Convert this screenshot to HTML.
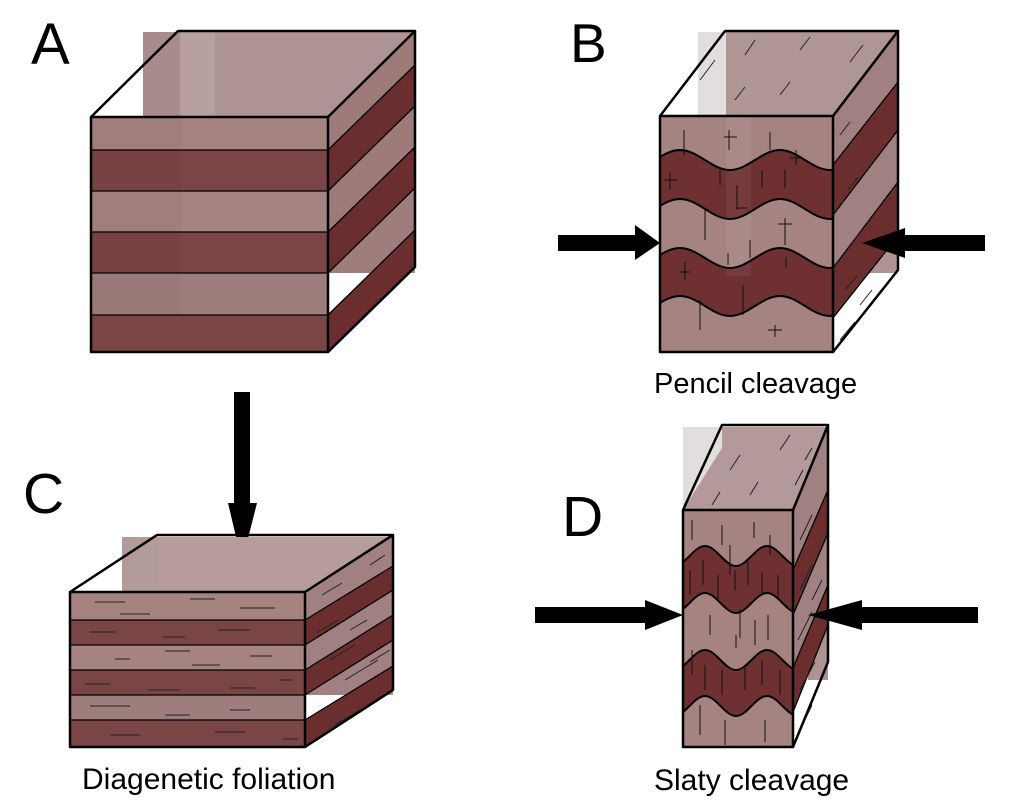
<!DOCTYPE html>
<html><head><meta charset="utf-8"><style>
html,body{margin:0;padding:0;background:#fff;}
svg{display:block;}
text{font-family:"Liberation Sans",sans-serif;fill:#000;}
</style></head><body>
<svg width="1024" height="801" viewBox="0 0 1024 801" xmlns="http://www.w3.org/2000/svg">
<defs>
<clipPath id="cB"><rect x="660" y="116" width="173" height="236"/></clipPath>
<clipPath id="cD"><rect x="683" y="510" width="110" height="237"/></clipPath>
</defs>

<!-- ============ A ============ -->
<rect x="143" y="32" width="272" height="241" fill="#ad9393"/>
<rect x="180" y="32" width="35" height="241" fill="#b9a0a0"/>
<rect x="143" y="32" width="37" height="241" fill="#a88c8c"/>
<polygon points="328,117 415,32 415,65 328,150" fill="#9d7b7b"/>
<polygon points="328,150 415,65 415,106 328,191" fill="#6b2e2f"/>
<polygon points="328,191 415,106 415,147 328,232" fill="#9d7b7b"/>
<polygon points="328,232 415,147 415,188 328,273" fill="#6b2e2f"/>
<polygon points="328,273 415,188 415,230 328,315" fill="#9f7d7d"/>
<polygon points="328,273 371,273 328,315" fill="#fff"/>
<polygon points="328,315 415,230 415,267 328,352" fill="#6b2e2f"/>
<g stroke="#000" stroke-width="1.3">
<line x1="328" y1="150" x2="415" y2="65"/><line x1="328" y1="191" x2="415" y2="106"/>
<line x1="328" y1="232" x2="415" y2="147"/><line x1="328" y1="273" x2="415" y2="188"/>
<line x1="328" y1="315" x2="415" y2="230"/>
</g>
<rect x="91" y="117" width="237" height="33" fill="#a58381"/>
<rect x="91" y="150" width="237" height="41" fill="#7a4546"/>
<rect x="91" y="191" width="237" height="41" fill="#a58381"/>
<rect x="91" y="232" width="237" height="41" fill="#7a4546"/>
<rect x="91" y="273" width="237" height="42" fill="#9e7e7c"/>
<rect x="91" y="315" width="237" height="37" fill="#7a4546"/>
<rect x="91" y="117" width="90" height="198" fill="#000" opacity="0.03"/>
<g stroke="#000" stroke-width="1.3">
<line x1="91" y1="150" x2="328" y2="150"/><line x1="91" y1="191" x2="328" y2="191"/>
<line x1="91" y1="232" x2="328" y2="232"/><line x1="91" y1="273" x2="328" y2="273"/>
<line x1="91" y1="315" x2="328" y2="315"/>
</g>
<g fill="none" stroke="#000" stroke-width="2.5" stroke-linejoin="round">
<rect x="91" y="117" width="237" height="235"/>
<polyline points="91,117 178,31 415,31 328,117"/>
<polyline points="415,31 415,267 328,352"/>
</g>
<text x="31" y="64" font-size="58">A</text>

<!-- ============ B ============ -->
<rect x="698" y="32" width="200" height="241" fill="#ad9393"/>
<rect x="726" y="32" width="25" height="241" fill="#bba2a2"/>
<rect x="698" y="32" width="28" height="241" fill="#e2dede"/>
<rect x="726" y="32" width="172" height="84" fill="#b09595"/>
<polygon points="676,95 698,66 698,116 660,116" fill="#fff"/>
<polygon points="833,116 898,31 898,82 833,165" fill="#a08080"/>
<polygon points="833,165 898,82 898,130 833,215" fill="#6b2e2f"/>
<polygon points="833,215 898,130 898,182 833,268" fill="#a08080"/>
<polygon points="833,268 898,182 898,236 833,318" fill="#6b2e2f"/>
<g stroke="#000" stroke-width="1.3">
<line x1="833" y1="165" x2="898" y2="82"/><line x1="833" y1="215" x2="898" y2="130"/>
<line x1="833" y1="268" x2="898" y2="182"/><line x1="833" y1="318" x2="898" y2="236"/>
</g>
<g stroke="#222" stroke-width="1">
<line x1="700" y1="80" x2="715" y2="60"/><line x1="745" y1="55" x2="755" y2="40"/>
<line x1="800" y1="50" x2="810" y2="37"/><line x1="850" y1="62" x2="863" y2="45"/>
<line x1="735" y1="100" x2="745" y2="87"/><line x1="780" y1="95" x2="790" y2="82"/>
<line x1="840" y1="135" x2="850" y2="122"/><line x1="848" y1="190" x2="858" y2="177"/>
<line x1="850" y1="245" x2="862" y2="230"/><line x1="845" y1="290" x2="857" y2="276"/>
<line x1="840" y1="340" x2="855" y2="322"/><line x1="860" y1="305" x2="872" y2="290"/>
</g>
<g clip-path="url(#cB)">
<rect x="660" y="116" width="173" height="236" fill="#a58381"/>
<path d="M630,170 C648,170 662,150 680,150 C698,150 712,170 730,170 C748,170 762,150 780,150 C798,150 812,170 830,170 C848,170 862,150 880,150 L880,400 L630,400 Z" fill="#6e3031"/>
<path d="M630,219 C648,219 662,199 680,199 C698,199 712,219 730,219 C748,219 762,199 780,199 C798,199 812,219 830,219 C848,219 862,199 880,199 L880,400 L630,400 Z" fill="#a58381"/>
<path d="M630,268 C648,268 662,248 680,248 C698,248 712,268 730,268 C748,268 762,248 780,248 C798,248 812,268 830,268 C848,268 862,248 880,248 L880,400 L630,400 Z" fill="#6e3031"/>
<path d="M630,316 C648,316 662,296 680,296 C698,296 712,316 730,316 C748,316 762,296 780,296 C798,296 812,316 830,316 C848,316 862,296 880,296 L880,400 L630,400 Z" fill="#a58381"/>
<rect x="726" y="116" width="25" height="160" fill="#fff" opacity="0.06"/>
<g fill="none" stroke="#000" stroke-width="2">
<path d="M630,170 C648,170 662,150 680,150 C698,150 712,170 730,170 C748,170 762,150 780,150 C798,150 812,170 830,170 C848,170 862,150 880,150"/>
<path d="M630,219 C648,219 662,199 680,199 C698,199 712,219 730,219 C748,219 762,199 780,199 C798,199 812,219 830,219 C848,219 862,199 880,199"/>
<path d="M630,268 C648,268 662,248 680,248 C698,248 712,268 730,268 C748,268 762,248 780,248 C798,248 812,268 830,268 C848,268 862,248 880,248"/>
<path d="M630,316 C648,316 662,296 680,296 C698,296 712,316 730,316 C748,316 762,296 780,296 C798,296 812,316 830,316 C848,316 862,296 880,296"/>
</g>
<g stroke="#111" stroke-width="1">
<line x1="684" y1="130" x2="684" y2="155"/><line x1="729" y1="130" x2="729" y2="150"/><line x1="724" y1="137" x2="737" y2="137"/>
<line x1="770" y1="132" x2="770" y2="150"/><line x1="796" y1="150" x2="796" y2="165"/><line x1="790" y1="158" x2="802" y2="158"/>
<line x1="670" y1="172" x2="670" y2="190"/><line x1="664" y1="180" x2="677" y2="180"/>
<line x1="737" y1="185" x2="737" y2="210"/><line x1="737" y1="208" x2="748" y2="208"/>
<line x1="720" y1="170" x2="720" y2="185"/><line x1="762" y1="170" x2="762" y2="188"/><line x1="785" y1="170" x2="785" y2="188"/>
<line x1="705" y1="210" x2="705" y2="240"/><line x1="785" y1="218" x2="785" y2="245"/><line x1="778" y1="224" x2="792" y2="224"/>
<line x1="750" y1="240" x2="750" y2="258"/><line x1="728" y1="253" x2="728" y2="265"/>
<line x1="685" y1="262" x2="685" y2="280"/><line x1="680" y1="272" x2="690" y2="272"/><line x1="786" y1="257" x2="786" y2="268"/>
<line x1="743" y1="285" x2="743" y2="315"/><line x1="700" y1="300" x2="700" y2="330"/>
<line x1="775" y1="325" x2="775" y2="337"/><line x1="768" y1="330" x2="782" y2="330"/>
</g>
</g>
<g fill="none" stroke="#000" stroke-width="2.5" stroke-linejoin="round">
<rect x="660" y="116" width="173" height="236"/>
<polyline points="660,116 725,31 898,31 833,116"/>
<polyline points="898,31 898,270 833,352"/>
</g>
<rect x="558" y="235" width="80" height="16" fill="#000"/>
<polygon points="635,225 660,243 635,260" fill="#000"/>
<rect x="903" y="235" width="82" height="16" fill="#000"/>
<polygon points="905,228 862,243 905,258" fill="#000"/>
<text x="570" y="62" font-size="55">B</text>
<text x="654" y="393" font-size="29">Pencil cleavage</text>

<!-- ============ arrow down ============ -->
<rect x="234" y="392" width="16" height="116" fill="#000"/>
<polygon points="228,503 257,503 242,562" fill="#000"/>

<!-- ============ C ============ -->
<rect x="122" y="537" width="271" height="158" fill="#ad9393"/>
<rect x="122" y="537" width="37" height="158" fill="#b9a0a0" opacity="0.6"/>
<rect x="159" y="537" width="234" height="55" fill="#b79c9c"/>
<polygon points="305,592 393,535 393,566 305,620" fill="#a08080"/>
<polygon points="305,620 393,566 393,590 305,645" fill="#6b2e2f"/>
<polygon points="305,645 393,590 393,615 305,670" fill="#a08080"/>
<polygon points="305,670 393,615 393,640 305,695" fill="#6b2e2f"/>
<polygon points="305,695 393,640 393,666 305,720" fill="#a08080"/>
<polygon points="305,695 345,695 305,720" fill="#fff"/>
<polygon points="305,720 393,666 393,690 305,747" fill="#6b2e2f"/>
<g stroke="#000" stroke-width="1.3">
<line x1="305" y1="620" x2="393" y2="566"/><line x1="305" y1="645" x2="393" y2="590"/>
<line x1="305" y1="670" x2="393" y2="615"/><line x1="305" y1="695" x2="393" y2="640"/>
<line x1="305" y1="720" x2="393" y2="666"/>
</g>
<rect x="70" y="592" width="235" height="28" fill="#a58381"/>
<rect x="70" y="620" width="235" height="25" fill="#7a4546"/>
<rect x="70" y="645" width="235" height="25" fill="#a58381"/>
<rect x="70" y="670" width="235" height="25" fill="#7a4546"/>
<rect x="70" y="695" width="235" height="25" fill="#9e7e7c"/>
<rect x="70" y="720" width="235" height="27" fill="#7a4546"/>
<g stroke="#000" stroke-width="1.3">
<line x1="70" y1="620" x2="305" y2="620"/><line x1="70" y1="645" x2="305" y2="645"/>
<line x1="70" y1="670" x2="305" y2="670"/><line x1="70" y1="695" x2="305" y2="695"/>
<line x1="70" y1="720" x2="305" y2="720"/>
</g>
<g stroke="#222" stroke-width="1">
<line x1="95" y1="602" x2="125" y2="602"/><line x1="120" y1="614" x2="150" y2="614"/><line x1="190" y1="599" x2="215" y2="599"/><line x1="240" y1="608" x2="275" y2="608"/>
<line x1="90" y1="632" x2="115" y2="632"/><line x1="163" y1="637" x2="185" y2="637"/><line x1="218" y1="630" x2="250" y2="630"/>
<line x1="115" y1="659" x2="130" y2="659"/><line x1="165" y1="651" x2="190" y2="651"/><line x1="192" y1="665" x2="220" y2="665"/><line x1="250" y1="656" x2="272" y2="656"/>
<line x1="85" y1="684" x2="110" y2="684"/><line x1="148" y1="690" x2="180" y2="690"/><line x1="230" y1="688" x2="255" y2="688"/><line x1="280" y1="680" x2="292" y2="680"/>
<line x1="90" y1="706" x2="130" y2="706"/><line x1="165" y1="715" x2="190" y2="715"/><line x1="230" y1="710" x2="250" y2="710"/>
<line x1="110" y1="735" x2="140" y2="735"/><line x1="215" y1="732" x2="245" y2="732"/><line x1="283" y1="739" x2="298" y2="739"/>
<line x1="322" y1="595" x2="342" y2="583"/><line x1="370" y1="565" x2="385" y2="555"/><line x1="318" y1="632" x2="338" y2="620"/><line x1="350" y1="630" x2="367" y2="620"/>
<line x1="330" y1="660" x2="355" y2="645"/><line x1="345" y1="680" x2="378" y2="660"/><line x1="370" y1="662" x2="390" y2="650"/><line x1="335" y1="725" x2="360" y2="710"/>
</g>
<g fill="none" stroke="#000" stroke-width="2.5" stroke-linejoin="round">
<rect x="70" y="592" width="235" height="155"/>
<polyline points="70,592 157,535 393,535 305,592"/>
<polyline points="393,535 393,690 305,747"/>
</g>
<text x="23" y="513" font-size="57">C</text>
<text x="82" y="789" font-size="30">Diagenetic foliation</text>

<!-- ============ D ============ -->
<rect x="683" y="427" width="145" height="253" fill="#ad9393"/>
<rect x="683" y="427" width="39" height="83" fill="#e2dede"/>
<rect x="722" y="427" width="106" height="83" fill="#b39999"/>
<polygon points="683,510 722,448 722,510" fill="#b39999"/>
<polygon points="793,510 828,425 828,490 793,570" fill="#a08080"/>
<polygon points="793,570 828,490 828,533 793,615" fill="#6b2e2f"/>
<polygon points="793,615 828,533 828,585 793,668" fill="#a08080"/>
<polygon points="793,668 828,585 828,625 793,712" fill="#6b2e2f"/>
<polygon points="793,712 808,676 808,720 793,747" fill="#fff"/>
<g stroke="#000" stroke-width="1.3">
<line x1="793" y1="570" x2="828" y2="490"/><line x1="793" y1="615" x2="828" y2="533"/>
<line x1="793" y1="668" x2="828" y2="585"/><line x1="793" y1="712" x2="828" y2="625"/>
</g>
<g stroke="#222" stroke-width="1">
<line x1="730" y1="470" x2="740" y2="455"/><line x1="780" y1="450" x2="790" y2="435"/><line x1="750" y1="495" x2="758" y2="482"/>
<line x1="795" y1="485" x2="803" y2="470"/><line x1="805" y1="460" x2="812" y2="448"/><line x1="712" y1="505" x2="720" y2="492"/>
<line x1="800" y1="540" x2="812" y2="515"/><line x1="800" y1="590" x2="812" y2="565"/><line x1="798" y1="640" x2="812" y2="612"/>
<line x1="800" y1="690" x2="815" y2="662"/><line x1="812" y1="600" x2="822" y2="580"/><line x1="800" y1="730" x2="812" y2="705"/>
</g>
<g clip-path="url(#cD)">
<rect x="683" y="510" width="110" height="237" fill="#a58381"/>
<path d="M674,566 C685,566 694,546 705,546 C716,546 725,566 736,566 C747,566 756,546 767,546 C778,546 787,566 798,566 L798,800 L674,800 Z" fill="#6e3031"/>
<path d="M674,613 C685,613 694,593 705,593 C716,593 725,613 736,613 C747,613 756,593 767,593 C778,593 787,613 798,613 L798,800 L674,800 Z" fill="#a58381"/>
<path d="M674,670 C685,670 694,650 705,650 C716,650 725,670 736,670 C747,670 756,650 767,650 C778,650 787,670 798,670 L798,800 L674,800 Z" fill="#6e3031"/>
<path d="M674,716 C685,716 694,696 705,696 C716,696 725,716 736,716 C747,716 756,696 767,696 C778,696 787,716 798,716 L798,800 L674,800 Z" fill="#a58381"/>
<g fill="none" stroke="#000" stroke-width="2">
<path d="M674,566 C685,566 694,546 705,546 C716,546 725,566 736,566 C747,566 756,546 767,546 C778,546 787,566 798,566"/>
<path d="M674,613 C685,613 694,593 705,593 C716,593 725,613 736,613 C747,613 756,593 767,593 C778,593 787,613 798,613"/>
<path d="M674,670 C685,670 694,650 705,650 C716,650 725,670 736,670 C747,670 756,650 767,650 C778,650 787,670 798,670"/>
<path d="M674,716 C685,716 694,696 705,696 C716,696 725,716 736,716 C747,716 756,696 767,696 C778,696 787,716 798,716"/>
</g>
<g stroke="#111" stroke-width="1">
<line x1="692" y1="520" x2="692" y2="540"/><line x1="722" y1="525" x2="722" y2="545"/><line x1="754" y1="522" x2="754" y2="538"/><line x1="770" y1="535" x2="770" y2="555"/>
<line x1="690" y1="570" x2="690" y2="595"/><line x1="703" y1="560" x2="703" y2="585"/><line x1="718" y1="575" x2="718" y2="600"/><line x1="735" y1="570" x2="735" y2="590"/>
<line x1="748" y1="560" x2="748" y2="585"/><line x1="762" y1="572" x2="762" y2="595"/><line x1="778" y1="575" x2="778" y2="598"/><line x1="730" y1="545" x2="730" y2="575"/>
<line x1="710" y1="615" x2="710" y2="635"/><line x1="740" y1="610" x2="740" y2="638"/><line x1="755" y1="620" x2="755" y2="645"/><line x1="768" y1="615" x2="768" y2="640"/><line x1="736" y1="635" x2="736" y2="648"/>
<line x1="692" y1="650" x2="692" y2="675"/><line x1="705" y1="665" x2="705" y2="690"/><line x1="722" y1="670" x2="722" y2="695"/><line x1="745" y1="668" x2="745" y2="690"/><line x1="762" y1="660" x2="762" y2="685"/><line x1="780" y1="670" x2="780" y2="695"/>
<line x1="700" y1="705" x2="700" y2="735"/><line x1="725" y1="720" x2="725" y2="745"/><line x1="765" y1="720" x2="765" y2="742"/>
</g>
</g>
<g fill="none" stroke="#000" stroke-width="2.5" stroke-linejoin="round">
<rect x="683" y="510" width="110" height="237"/>
<polyline points="683,510 722,425 828,425 793,510"/>
<polyline points="828,425 828,662 793,747"/>
</g>
<rect x="535" y="607" width="115" height="16" fill="#000"/>
<polygon points="645,600 683,615 645,630" fill="#000"/>
<rect x="860" y="607" width="118" height="16" fill="#000"/>
<polygon points="862,600 808,615 862,630" fill="#000"/>
<text x="562" y="536" font-size="57">D</text>
<text x="654" y="790" font-size="30">Slaty cleavage</text>
</svg>
</body></html>
